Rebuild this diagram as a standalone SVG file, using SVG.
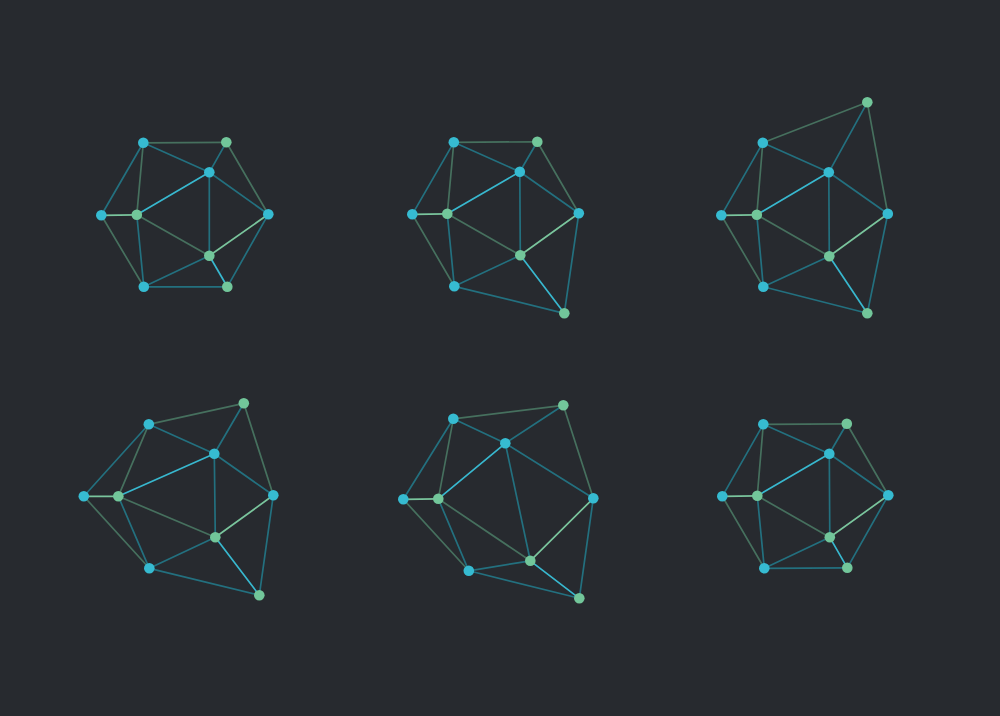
<svg xmlns="http://www.w3.org/2000/svg" width="1000" height="716" viewBox="0 0 1000 716">
<style>
.e{fill:none;stroke-width:1.7;stroke-linecap:round}
.db{stroke:#23707f}.dg{stroke:#46705e}.bb{stroke:#38b8cf}.bg{stroke:#7ac59d}
.b{fill:#36bbd1}.g{fill:#72c69a}
</style>
<rect width="1000" height="716" fill="#272a2f"/>
<g transform="translate(.3,.3)">
<g id="connectors">
<g id="c1"><path class="e dg" d="M143 142.500L226 142"/><path class="e db" d="M143 142.500L209 172"/><path class="e db" d="M143 142.500L101 215"/><path class="e dg" d="M143 142.500L136.500 214.500"/><path class="e db" d="M226 142L209 172"/><path class="e dg" d="M226 142L268 214"/><path class="e db" d="M209 172L268 214"/><path class="e bb" d="M209 172L136.500 214.500"/><path class="e db" d="M209 172L209 255.500"/><path class="e bg" d="M268 214L209 255.500"/><path class="e db" d="M268 214L227 286.500"/><path class="e bb" d="M209 255.500L227 286.500"/><path class="e db" d="M209 255.500L143.500 286.500"/><path class="e dg" d="M209 255.500L136.500 214.500"/><path class="e db" d="M227 286.500L143.500 286.500"/><path class="e dg" d="M143.500 286.500L101 215"/><path class="e db" d="M143.500 286.500L136.500 214.500"/><path class="e bg" d="M101 215L136.500 214.500"/></g>
<g id="c2"><path class="e dg" d="M453.500 142L537 141.500"/><path class="e db" d="M453.500 142L519.500 171.500"/><path class="e db" d="M453.500 142L412 214"/><path class="e dg" d="M453.500 142L447 213.500"/><path class="e db" d="M537 141.500L519.500 171.500"/><path class="e dg" d="M537 141.500L578.500 213"/><path class="e db" d="M519.500 171.500L578.500 213"/><path class="e bb" d="M519.500 171.500L447 213.500"/><path class="e db" d="M519.500 171.500L520 255"/><path class="e bg" d="M578.500 213L520 255"/><path class="e db" d="M578.500 213L564 313"/><path class="e bb" d="M520 255L564 313"/><path class="e db" d="M520 255L454 286"/><path class="e dg" d="M520 255L447 213.500"/><path class="e db" d="M564 313L454 286"/><path class="e dg" d="M454 286L412 214"/><path class="e db" d="M454 286L447 213.500"/><path class="e bg" d="M412 214L447 213.500"/></g>
<g id="c3"><path class="e dg" d="M762.500 142.500L867 102"/><path class="e db" d="M762.500 142.500L828.500 172"/><path class="e db" d="M762.500 142.500L721 215"/><path class="e dg" d="M762.500 142.500L756.500 214.500"/><path class="e db" d="M867 102L828.500 172"/><path class="e dg" d="M867 102L887.500 213.500"/><path class="e db" d="M828.500 172L887.500 213.500"/><path class="e bb" d="M828.500 172L756.500 214.500"/><path class="e db" d="M828.500 172L829 256"/><path class="e bg" d="M887.500 213.500L829 256"/><path class="e db" d="M887.500 213.500L867 313"/><path class="e bb" d="M829 256L867 313"/><path class="e db" d="M829 256L763 286.500"/><path class="e dg" d="M829 256L756.500 214.500"/><path class="e db" d="M867 313L763 286.500"/><path class="e dg" d="M763 286.500L721 215"/><path class="e db" d="M763 286.500L756.500 214.500"/><path class="e bg" d="M721 215L756.500 214.500"/></g>
<g id="c4"><path class="e dg" d="M148.500 424L243.500 403"/><path class="e db" d="M148.500 424L214 453.500"/><path class="e db" d="M148.500 424L83.500 496"/><path class="e dg" d="M148.500 424L118 496"/><path class="e db" d="M243.500 403L214 453.500"/><path class="e dg" d="M243.500 403L273 495"/><path class="e db" d="M214 453.500L273 495"/><path class="e bb" d="M214 453.500L118 496"/><path class="e db" d="M214 453.500L215 537"/><path class="e bg" d="M273 495L215 537"/><path class="e db" d="M273 495L259 595"/><path class="e bb" d="M215 537L259 595"/><path class="e db" d="M215 537L149 568"/><path class="e dg" d="M215 537L118 496"/><path class="e db" d="M259 595L149 568"/><path class="e dg" d="M149 568L83.500 496"/><path class="e db" d="M149 568L118 496"/><path class="e bg" d="M83.500 496L118 496"/></g>
<g id="c5"><path class="e dg" d="M453 418.500L563 405"/><path class="e db" d="M453 418.500L505 443"/><path class="e db" d="M453 418.500L403 499"/><path class="e dg" d="M453 418.500L438 498.500"/><path class="e db" d="M563 405L505 443"/><path class="e dg" d="M563 405L593 498"/><path class="e db" d="M505 443L593 498"/><path class="e bb" d="M505 443L438 498.500"/><path class="e db" d="M505 443L530 560.500"/><path class="e bg" d="M593 498L530 560.500"/><path class="e db" d="M593 498L579 598"/><path class="e bb" d="M530 560.500L579 598"/><path class="e db" d="M530 560.500L468.500 570.500"/><path class="e dg" d="M530 560.500L438 498.500"/><path class="e db" d="M579 598L468.500 570.500"/><path class="e dg" d="M468.500 570.500L403 499"/><path class="e db" d="M468.500 570.500L438 498.500"/><path class="e bg" d="M403 499L438 498.500"/></g>
<g id="c6"><path class="e dg" d="M763 424L846.500 423.500"/><path class="e db" d="M763 424L829 453.500"/><path class="e db" d="M763 424L722 496"/><path class="e dg" d="M763 424L757 495.500"/><path class="e db" d="M846.500 423.500L829 453.500"/><path class="e dg" d="M846.500 423.500L888 495"/><path class="e db" d="M829 453.500L888 495"/><path class="e bb" d="M829 453.500L757 495.500"/><path class="e db" d="M829 453.500L829.500 537"/><path class="e bg" d="M888 495L829.500 537"/><path class="e db" d="M888 495L847 567.500"/><path class="e bb" d="M829.500 537L847 567.500"/><path class="e db" d="M829.500 537L764 568"/><path class="e dg" d="M829.500 537L757 495.500"/><path class="e db" d="M847 567.500L764 568"/><path class="e dg" d="M764 568L722 496"/><path class="e db" d="M764 568L757 495.500"/><path class="e bg" d="M722 496L757 495.500"/></g>
</g>
<g id="n1a"><circle class="b" cx="143" cy="142.500" r="5.300"/></g><g id="n1b"><circle class="g" cx="226" cy="142" r="5.300"/></g><g id="n1c"><circle class="b" cx="209" cy="172" r="5.300"/></g><g id="n1d"><circle class="b" cx="268" cy="214" r="5.300"/></g><g id="n1e"><circle class="g" cx="209" cy="255.500" r="5.300"/></g><g id="n1f"><circle class="g" cx="227" cy="286.500" r="5.300"/></g><g id="n1g"><circle class="b" cx="143.500" cy="286.500" r="5.300"/></g><g id="n1h"><circle class="b" cx="101" cy="215" r="5.300"/></g><g id="n1i"><circle class="g" cx="136.500" cy="214.500" r="5.300"/></g>
<g id="n2a"><circle class="b" cx="453.500" cy="142" r="5.300"/></g><g id="n2b"><circle class="g" cx="537" cy="141.500" r="5.300"/></g><g id="n2c"><circle class="b" cx="519.500" cy="171.500" r="5.300"/></g><g id="n2d"><circle class="b" cx="578.500" cy="213" r="5.300"/></g><g id="n2e"><circle class="g" cx="520" cy="255" r="5.300"/></g><g id="n2f"><circle class="g" cx="564" cy="313" r="5.300"/></g><g id="n2g"><circle class="b" cx="454" cy="286" r="5.300"/></g><g id="n2h"><circle class="b" cx="412" cy="214" r="5.300"/></g><g id="n2i"><circle class="g" cx="447" cy="213.500" r="5.300"/></g>
<g id="n3a"><circle class="b" cx="762.500" cy="142.500" r="5.300"/></g><g id="n3b"><circle class="g" cx="867" cy="102" r="5.300"/></g><g id="n3c"><circle class="b" cx="828.500" cy="172" r="5.300"/></g><g id="n3d"><circle class="b" cx="887.500" cy="213.500" r="5.300"/></g><g id="n3e"><circle class="g" cx="829" cy="256" r="5.300"/></g><g id="n3f"><circle class="g" cx="867" cy="313" r="5.300"/></g><g id="n3g"><circle class="b" cx="763" cy="286.500" r="5.300"/></g><g id="n3h"><circle class="b" cx="721" cy="215" r="5.300"/></g><g id="n3i"><circle class="g" cx="756.500" cy="214.500" r="5.300"/></g>
<g id="n4a"><circle class="b" cx="148.500" cy="424" r="5.300"/></g><g id="n4b"><circle class="g" cx="243.500" cy="403" r="5.300"/></g><g id="n4c"><circle class="b" cx="214" cy="453.500" r="5.300"/></g><g id="n4d"><circle class="b" cx="273" cy="495" r="5.300"/></g><g id="n4e"><circle class="g" cx="215" cy="537" r="5.300"/></g><g id="n4f"><circle class="g" cx="259" cy="595" r="5.300"/></g><g id="n4g"><circle class="b" cx="149" cy="568" r="5.300"/></g><g id="n4h"><circle class="b" cx="83.500" cy="496" r="5.300"/></g><g id="n4i"><circle class="g" cx="118" cy="496" r="5.300"/></g>
<g id="n5a"><circle class="b" cx="453" cy="418.500" r="5.300"/></g><g id="n5b"><circle class="g" cx="563" cy="405" r="5.300"/></g><g id="n5c"><circle class="b" cx="505" cy="443" r="5.300"/></g><g id="n5d"><circle class="b" cx="593" cy="498" r="5.300"/></g><g id="n5e"><circle class="g" cx="530" cy="560.500" r="5.300"/></g><g id="n5f"><circle class="g" cx="579" cy="598" r="5.300"/></g><g id="n5g"><circle class="b" cx="468.500" cy="570.500" r="5.300"/></g><g id="n5h"><circle class="b" cx="403" cy="499" r="5.300"/></g><g id="n5i"><circle class="g" cx="438" cy="498.500" r="5.300"/></g>
<g id="n6a"><circle class="b" cx="763" cy="424" r="5.300"/></g><g id="n6b"><circle class="g" cx="846.500" cy="423.500" r="5.300"/></g><g id="n6c"><circle class="b" cx="829" cy="453.500" r="5.300"/></g><g id="n6d"><circle class="b" cx="888" cy="495" r="5.300"/></g><g id="n6e"><circle class="g" cx="829.500" cy="537" r="5.300"/></g><g id="n6f"><circle class="g" cx="847" cy="567.500" r="5.300"/></g><g id="n6g"><circle class="b" cx="764" cy="568" r="5.300"/></g><g id="n6h"><circle class="b" cx="722" cy="496" r="5.300"/></g><g id="n6i"><circle class="g" cx="757" cy="495.500" r="5.300"/></g>
</g>
</svg>
